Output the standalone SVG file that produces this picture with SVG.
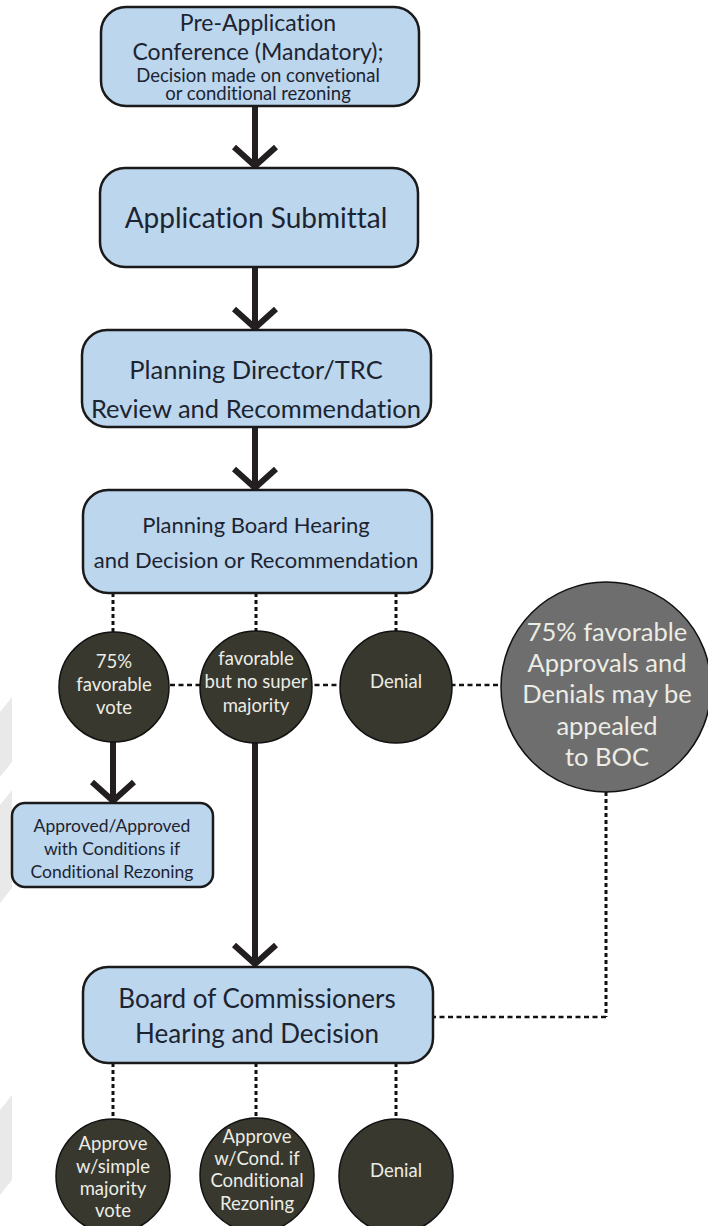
<svg xmlns="http://www.w3.org/2000/svg" width="708" height="1226" viewBox="0 0 708 1226">
<style>
.box{fill:#bcd6ee;stroke:#1a1a1a;stroke-width:2.5}
.bt{font-family:Lato,"Open Sans",sans-serif;fill:#1c2431;text-anchor:middle;font-variant-ligatures:none;font-feature-settings:"liga" 0,"dlig" 0}
.dc{fill:#38382f;stroke:#111;stroke-width:1.5}
.ct{font-family:Lato,"Open Sans",sans-serif;fill:#ecece4;text-anchor:middle;font-size:18.5px;font-variant-ligatures:none;font-feature-settings:"liga" 0,"dlig" 0}
.big{font-size:25.5px}
.arr{fill:none;stroke:#231f20;stroke-width:6}
.dotv{fill:none;stroke:#111;stroke-width:3;stroke-dasharray:4 3}
.doth{fill:none;stroke:#111;stroke-width:2.5;stroke-dasharray:5 3.5}
.bg{fill:#e9e9e9}
</style>
<g id="background">
<polygon class="bg" points="0,712 12,697 12,762 0,777"/>
<polygon class="bg" points="0,805 12,790 12,888 0,903"/>
<polygon class="bg" points="0,1110 12,1095 12,1180 0,1195"/>
</g>
<g id="connectors">
<path class="arr" d="M255,106 V164 M234,147 L255,166 L276,147"/>
<path class="arr" d="M255,267 V326 M234,309 L255,328 L276,309"/>
<path class="arr" d="M255,427 V486 M234,469 L255,488 L276,469"/>
<path class="arr" d="M113,742 V799 M92,782 L113,801 L134,782"/>
<path class="arr" d="M255,742 V963 M234,945 L255,964 L276,945"/>
<path class="dotv" d="M113,593 V632 M256,593 V632 M396,593 V632"/>
<path class="doth" d="M170,685 H502"/>
<path class="dotv" d="M606,792 V1017"/>
<path class="doth" d="M606,1017 H433"/>
<path class="dotv" d="M113,1063 V1120 M256,1063 V1119 M396,1063 V1120"/>
</g>
<g id="preapp">
<rect class="box" x="101" y="7" width="318" height="99" rx="25"/>
<text class="bt" x="258" y="31" font-size="23">Pre-Application</text>
<text class="bt" x="258" y="60" font-size="23">Conference (Mandatory);</text>
<text class="bt" x="258" y="82" font-size="18.5">Decision made on convetional</text>
<text class="bt" x="258" y="100" font-size="18.5">or conditional rezoning</text>
</g>
<g id="submittal">
<rect class="box" x="100" y="168" width="318" height="99" rx="25"/>
<text class="bt" x="256" y="228" font-size="28">Application Submittal</text>
</g>
<g id="director">
<rect class="box" x="82" y="330" width="349" height="97" rx="25"/>
<text class="bt" x="256" y="379" font-size="25.5">Planning Director/TRC</text>
<text class="bt" x="256" y="418" font-size="25.5">Review and Recommendation</text>
</g>
<g id="pboard">
<rect class="box" x="83" y="490" width="349" height="103" rx="25"/>
<text class="bt" x="256" y="533" font-size="22">Planning Board Hearing</text>
<text class="bt" x="256" y="568" font-size="22">and Decision or Recommendation</text>
</g>
<g id="c75">
<circle class="dc" cx="114" cy="687" r="55"/>
<text class="ct" x="114" y="668">75%</text>
<text class="ct" x="114" y="691">favorable</text>
<text class="ct" x="114" y="714">vote</text>
</g>
<g id="cfav">
<circle class="dc" cx="256" cy="687" r="56"/>
<text class="ct" x="256" y="665">favorable</text>
<text class="ct" x="256" y="688">but no super</text>
<text class="ct" x="256" y="712">majority</text>
</g>
<g id="cden1">
<circle class="dc" cx="396" cy="687" r="56"/>
<text class="ct" x="396" y="688">Denial</text>
</g>
<g id="appeal">
<circle cx="606" cy="687" r="105" fill="#6e6e6e" stroke="#111" stroke-width="1.5"/>
<text class="ct big" x="607" y="641">75% favorable</text>
<text class="ct big" x="607" y="672">Approvals and</text>
<text class="ct big" x="607" y="703">Denials may be</text>
<text class="ct big" x="607" y="735">appealed</text>
<text class="ct big" x="607" y="766">to BOC</text>
</g>
<g id="approved">
<rect class="box" x="12" y="803" width="201" height="84" rx="13"/>
<text class="bt" x="112" y="832" font-size="17.5">Approved/Approved</text>
<text class="bt" x="112" y="855" font-size="17.5">with Conditions if</text>
<text class="bt" x="112" y="878" font-size="17.5">Conditional Rezoning</text>
</g>
<g id="boc">
<rect class="box" x="83" y="967" width="350" height="96" rx="25"/>
<text class="bt" x="257" y="1008" font-size="26">Board of Commissioners</text>
<text class="bt" x="257" y="1043" font-size="26">Hearing and Decision</text>
</g>
<g id="bsimple">
<circle class="dc" cx="113" cy="1176" r="57"/>
<text class="ct" x="113" y="1150">Approve</text>
<text class="ct" x="113" y="1173">w/simple</text>
<text class="ct" x="113" y="1195">majority</text>
<text class="ct" x="113" y="1217">vote</text>
</g>
<g id="bcond">
<circle class="dc" cx="257" cy="1175" r="57"/>
<text class="ct" x="257" y="1143">Approve</text>
<text class="ct" x="257" y="1165">w/Cond. if</text>
<text class="ct" x="257" y="1187">Conditional</text>
<text class="ct" x="257" y="1210">Rezoning</text>
</g>
<g id="bden">
<circle class="dc" cx="396" cy="1176" r="57"/>
<text class="ct" x="396" y="1177">Denial</text>
</g>
</svg>
